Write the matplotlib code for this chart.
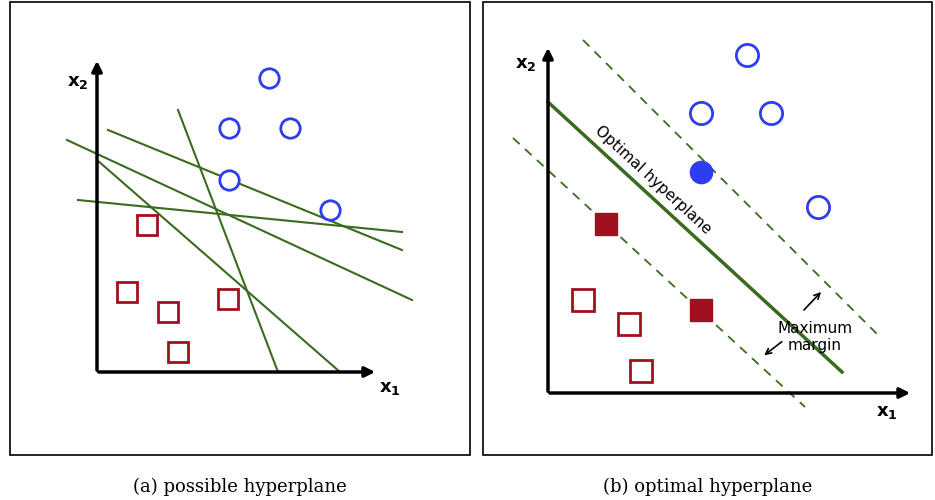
import matplotlib.pyplot as plt
from matplotlib.patches import Rectangle

# pixel-space layout of the two schematic panels
blue_a = [(269, 78), (229, 128), (290, 128), (229, 180), (330, 210)]
red_a = [(147, 225), (127, 292), (168, 312), (228, 299), (178, 352)]
lines_a = [((67, 140), (412, 300)), ((108, 130), (402, 250)), ((78, 200), (402, 232)),
           ((178, 110), (278, 372)), ((97, 160), (340, 372))]

blue_b = [(747, 55), (701, 113), (771, 113), (818, 207)]
blue_b_filled = [(701, 172)]
red_b_filled = [(606, 224), (701, 310)]
red_b = [(583, 300), (629, 324), (641, 371)]
hyper = ((548, 102), (842, 372))
margin_up = ((583, 40), (878, 335))
margin_lo = ((513, 138), (805, 407))

GREEN = '#3a6b1e'
BLUE = '#2f3df0'
RED = '#a0101e'

fig = plt.figure(figsize=(9.35, 5), dpi=100)
ax = fig.add_axes([0, 0, 1, 1])
ax.set_xlim(0, 935)
ax.set_ylim(500, 0)
ax.axis('off')

for x0, w in [(10, 460), (483, 449)]:
    ax.add_patch(Rectangle((x0, 2), w, 453, fill=False, edgecolor='black', lw=1.2))

def axes_arrows(ox, oy, ytop, xright):
    ax.annotate('', xy=(ox, ytop), xytext=(ox, oy + 1),
                arrowprops=dict(arrowstyle='-|>', lw=2.5, color='black', mutation_scale=15))
    ax.annotate('', xy=(xright, oy), xytext=(ox - 1, oy),
                arrowprops=dict(arrowstyle='-|>', lw=2.5, color='black', mutation_scale=15))

# panel a
axes_arrows(97, 372, 58, 378)
ax.text(78, 82, r'$\mathbf{x_2}$', fontsize=13, ha='center', va='center')
ax.text(390, 388, r'$\mathbf{x_1}$', fontsize=13, ha='center', va='center')
for (p, q) in lines_a:
    ax.plot([p[0], q[0]], [p[1], q[1]], color=GREEN, lw=1.5)
ax.plot(*zip(*blue_a), 'o', ms=14, mfc='white', mec=BLUE, mew=2, ls='none')
ax.plot(*zip(*red_a), 's', ms=14, mfc='white', mec=RED, mew=2, ls='none')

# panel b
axes_arrows(548, 393, 45, 913)
ax.text(526, 64, r'$\mathbf{x_2}$', fontsize=13, ha='center', va='center')
ax.text(887, 412, r'$\mathbf{x_1}$', fontsize=13, ha='center', va='center')
ax.plot(*zip(*hyper), color=GREEN, lw=2.5)
for seg in (margin_up, margin_lo):
    ax.plot(*zip(*seg), color=GREEN, lw=1.3, ls=(0, (5, 4)))
ax.plot(*zip(*blue_b), 'o', ms=16, mfc='white', mec=BLUE, mew=2, ls='none')
ax.plot(*zip(*blue_b_filled), 'o', ms=16, mfc=BLUE, mec=BLUE, ls='none')
ax.plot(*zip(*red_b_filled), 's', ms=16, mfc=RED, mec=RED, ls='none')
ax.plot(*zip(*red_b), 's', ms=16, mfc='white', mec=RED, mew=2, ls='none')
ax.text(653, 180, 'Optimal hyperplane', rotation=-42.6, rotation_mode='anchor',
        ha='center', va='center', fontsize=11)
ax.text(815, 337, 'Maximum\nmargin', fontsize=11, ha='center', va='center', linespacing=1.2)
ax.annotate('', xy=(823, 290), xytext=(802, 312),
            arrowprops=dict(arrowstyle='->', lw=1.2, color='black'))
ax.annotate('', xy=(762, 357), xytext=(784, 340),
            arrowprops=dict(arrowstyle='->', lw=1.2, color='black'))

ax.text(240, 487, '(a) possible hyperplane', fontsize=13, family='DejaVu Serif',
        ha='center', va='center')
ax.text(708, 487, '(b) optimal hyperplane', fontsize=13, family='DejaVu Serif',
        ha='center', va='center')

fig.savefig('out.png', dpi=100)
